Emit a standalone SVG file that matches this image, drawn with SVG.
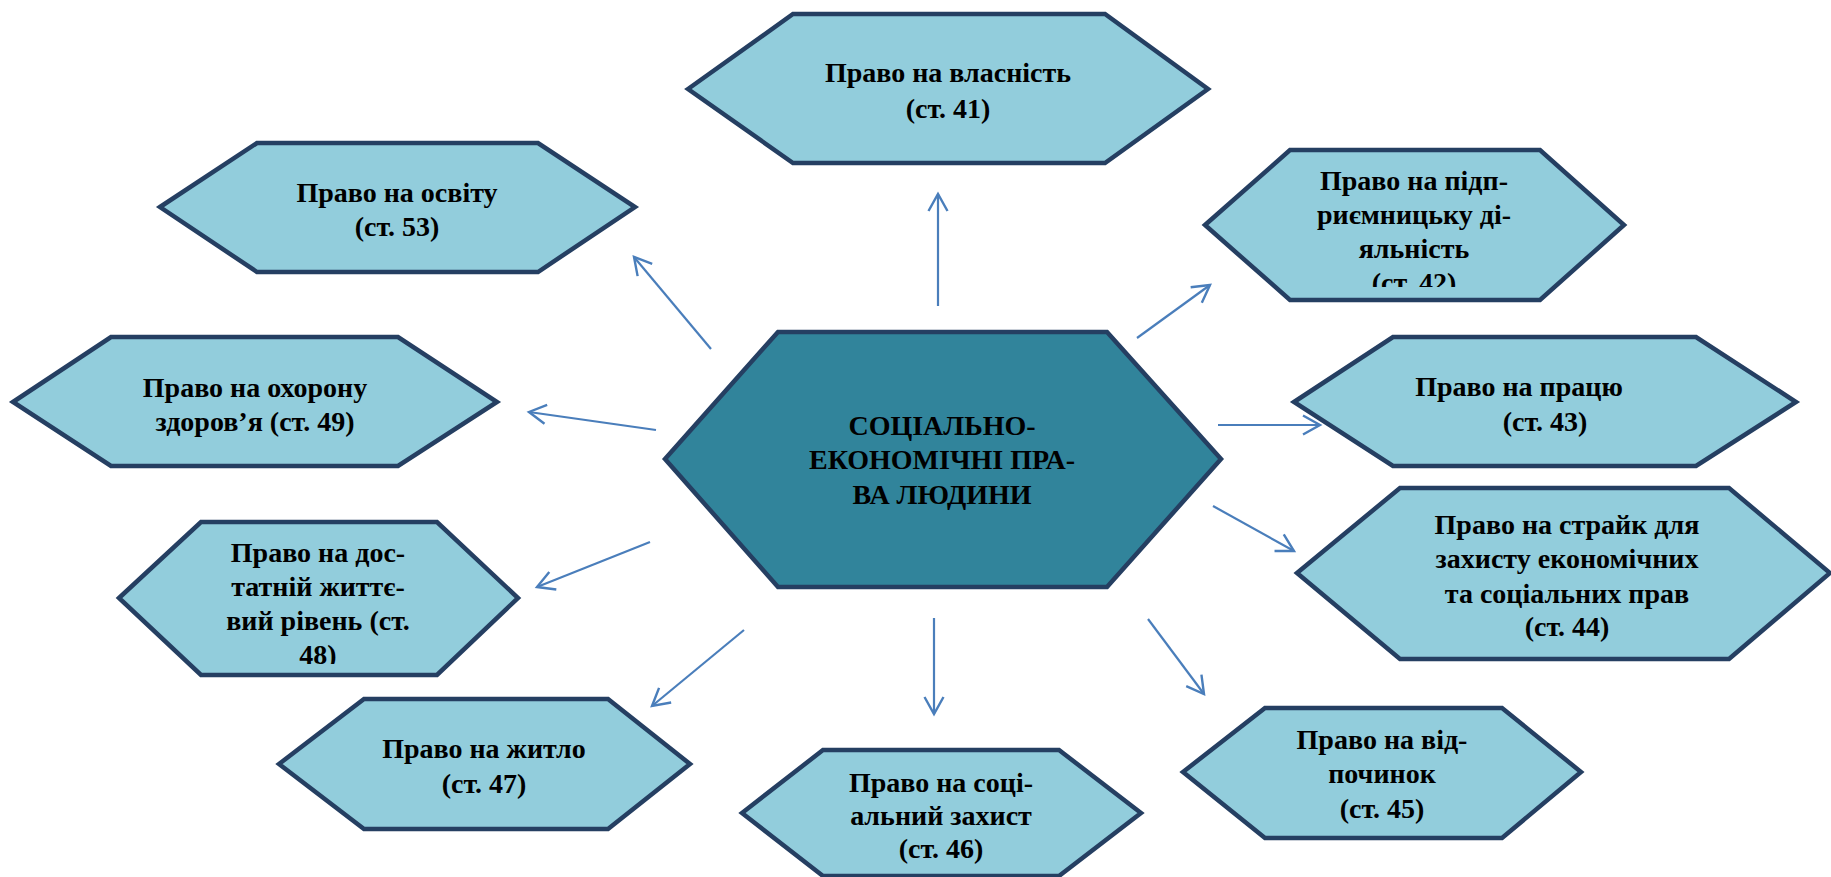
<svg xmlns="http://www.w3.org/2000/svg" width="1831" height="877" viewBox="0 0 1831 877">
<style>
.hex{fill:#92CDDC;stroke:#253F62;stroke-width:4.5;stroke-linejoin:miter}
.hexc{fill:#31849B;stroke:#253F62;stroke-width:4.5}
.t{font-family:"Liberation Serif","Times New Roman",serif;font-weight:bold;font-size:28px;fill:#000;text-anchor:middle}
.arr{stroke:#4A7EBB;stroke-width:2.2;fill:none;marker-end:url(#ah)}
</style>
<defs>
<marker id="ah" markerUnits="userSpaceOnUse" viewBox="-20 -12 24 24" refX="0" refY="0" markerWidth="24" markerHeight="24" orient="auto" overflow="visible">
<path d="M-17,-9.5 L0,0 L-17,9.5" fill="none" stroke="#4A7EBB" stroke-width="2.4"/>
</marker>
<clipPath id="c42"><rect x="1200" y="140" width="430" height="147"/></clipPath>
<clipPath id="c48"><rect x="110" y="510" width="420" height="154"/></clipPath>
</defs>
<rect width="1831" height="877" fill="#fff"/>
<g id="connectors">
<line class="arr" x1="938" y1="306" x2="938" y2="194"/>
<line class="arr" x1="1137" y1="338" x2="1210" y2="285"/>
<line class="arr" x1="1218" y1="425" x2="1320" y2="425"/>
<line class="arr" x1="1213" y1="506" x2="1294" y2="551"/>
<line class="arr" x1="1148" y1="619" x2="1204" y2="694"/>
<line class="arr" x1="934" y1="618" x2="934" y2="714"/>
<line class="arr" x1="744" y1="630" x2="652" y2="706"/>
<line class="arr" x1="650" y1="542" x2="537" y2="587"/>
<line class="arr" x1="656" y1="430" x2="529" y2="412"/>
<line class="arr" x1="711" y1="349" x2="634" y2="257"/>
</g>
<g id="node-center">
<polygon class="hexc" points="665,459 778,332 1107,332 1221,459 1107,587 778,587"/>
<text class="t" x="942" y="435">СОЦІАЛЬНО-</text>
<text class="t" x="942" y="469">ЕКОНОМІЧНІ ПРА-</text>
<text class="t" x="942" y="504">ВА ЛЮДИНИ</text>
</g>
<g id="node-41">
<polygon class="hex" points="688,89 793,14 1105,14 1208,89 1105,163 793,163"/>
<text class="t" x="948" y="82">Право на власність</text>
<text class="t" x="948" y="118">(ст. 41)</text>
</g>
<g id="node-42">
<polygon class="hex" points="1205,225 1290,150 1540,150 1624,225 1540,300 1290,300"/>
<g clip-path="url(#c42)">
<text class="t" x="1414" y="190">Право на підп-</text>
<text class="t" x="1414" y="224">риємницьку ді-</text>
<text class="t" x="1414" y="258">яльність</text>
<text class="t" x="1414" y="292">(ст. 42)</text>
</g>
</g>
<g id="node-43">
<polygon class="hex" points="1294,402 1393,337 1696,337 1796,402 1696,466 1393,466"/>
<text class="t" x="1519" y="396">Право на працю</text>
<text class="t" x="1545" y="431">(ст. 43)</text>
</g>
<g id="node-44">
<polygon class="hex" points="1297,573 1400,488 1729,488 1830,573 1729,659 1400,659"/>
<text class="t" x="1567" y="534">Право на страйк для</text>
<text class="t" x="1567" y="568">захисту економічних</text>
<text class="t" x="1567" y="603">та соціальних прав</text>
<text class="t" x="1567" y="636">(ст. 44)</text>
</g>
<g id="node-45">
<polygon class="hex" points="1183,772 1265,708 1502,708 1581,772 1502,838 1265,838"/>
<text class="t" x="1382" y="749">Право на від-</text>
<text class="t" x="1382" y="783">починок</text>
<text class="t" x="1382" y="818">(ст. 45)</text>
</g>
<g id="node-46">
<polygon class="hex" points="742,813 823,750 1059,750 1141,813 1059,876 823,876"/>
<text class="t" x="941" y="792">Право на соці-</text>
<text class="t" x="941" y="825">альний захист</text>
<text class="t" x="941" y="858">(ст. 46)</text>
</g>
<g id="node-47">
<polygon class="hex" points="279,764 364,699 608,699 690,764 608,829 364,829"/>
<text class="t" x="484" y="758">Право на житло</text>
<text class="t" x="484" y="793">(ст. 47)</text>
</g>
<g id="node-48">
<polygon class="hex" points="119,598 201,522 437,522 518,598 437,675 201,675"/>
<g clip-path="url(#c48)">
<text class="t" x="318" y="562">Право на дос-</text>
<text class="t" x="318" y="596">татній життє-</text>
<text class="t" x="318" y="630">вий рівень (ст.</text>
<text class="t" x="318" y="664">48)</text>
</g>
</g>
<g id="node-49">
<polygon class="hex" points="13,402 111,337 398,337 497,402 398,466 111,466"/>
<text class="t" x="255" y="397">Право на охорону</text>
<text class="t" x="255" y="431">здоров’я (ст. 49)</text>
</g>
<g id="node-53">
<polygon class="hex" points="160,207 257,143 538,143 635,207 538,272 257,272"/>
<text class="t" x="397" y="202">Право на освіту</text>
<text class="t" x="397" y="236">(ст. 53)</text>
</g>
</svg>
